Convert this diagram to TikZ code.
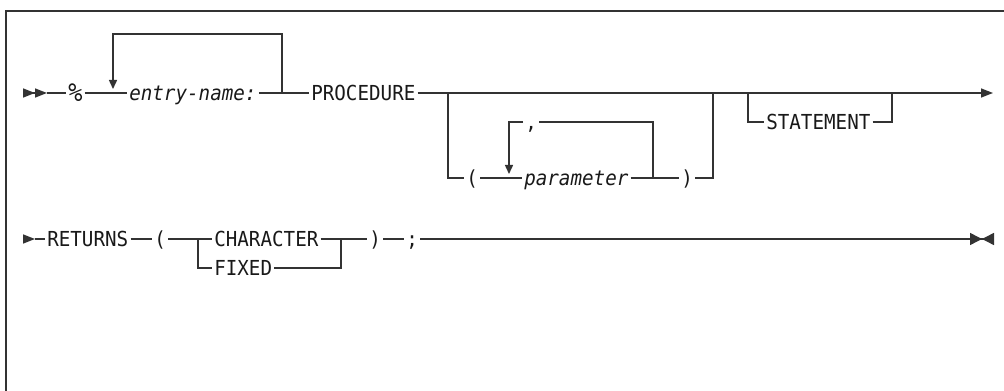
\documentclass[tikz,border=0pt]{standalone}
\usepackage{fontspec}
\setmonofont{DejaVu Sans Mono}[FakeStretch=0.93]
\usetikzlibrary{arrows.meta,calc}
\tikzset{
  tok/.style={anchor=west, inner xsep=1.5pt, inner ysep=0pt, text height=11.2pt, text depth=0pt, text=black!90, font=\fontsize{15.5pt}{17pt}\ttfamily},
  var/.style={tok, font=\fontsize{15.5pt}{17pt}\ttfamily\itshape},
  rail/.style={line width=1.1pt, draw=black!80},
  repeat/.style={rail, -{Triangle[length=6.75pt,width=6pt]}},
  begin/.style={rail, -{Triangle[length=9pt,width=6.75pt]Triangle[length=9pt,width=6.75pt]}},
  cont/.style={rail, -{Triangle[length=9pt,width=6.75pt]}},
  finish/.style={rail, -{Triangle[length=9pt,width=9pt]Triangle[length=9pt,width=9pt,reversed]}}
}
\begin{document}
\begin{tikzpicture}[x=0.75pt,y=0.75pt,yscale=-1,xscale=1]
\useasboundingbox (0,0) rectangle (1004,391);
\draw [line width=1.5pt, draw=black!80] (6,391) -- (6,11) -- (1004,11);
% first line
\coordinate (s1) at (23,93);
\coordinate (m1) at (47,93);
\node [var, text height=13pt, font=\fontsize{19pt}{20pt}\ttfamily\itshape] (pct) at (66,93) {\%};
\coordinate (rl) at (113,93);
\coordinate (rlt) at (113,34);
\node [var] (entry) at (127,93) {entry-name:};
\coordinate (rr) at (282,93);
\coordinate (rrt) at (282,34);
\node [tok] (proc) at (309,93) {PROCEDURE};
\coordinate (pf) at (448,93);
\coordinate (pfb) at (448,178);
\node [tok] (lpar) at (464,178) {(};
\coordinate (ql) at (509,178);
\node [var] (param) at (522,178) {parameter};
\coordinate (qr) at (653,178);
\node [tok] (rpar) at (679,178) {)};
\coordinate (pjb) at (713,178);
\coordinate (pj) at (713,93);
\coordinate (sf) at (748,93);
\coordinate (sfb) at (748,122);
\node [tok] (stmt) at (764,122) {STATEMENT};
\coordinate (sjb) at (892,122);
\coordinate (sj) at (892,93);
\coordinate (e1) at (993,93);
\node [tok] (comma) at (523,122) {,};
\draw [begin] (s1) -- (m1);
\draw [rail] (m1) -- (pct.west) (pct.east) -- (entry.west);
\draw [rail] (entry.east) -- (proc.west);
\draw [repeat] (rr) -- (rrt) -- (rlt) -- ($(rl)+(0,-4)$);
\draw [rail] (proc.east) -- (pf) -- (pj) -- (sf) -- (sj);
\draw [cont] (sj) -- (e1);
\draw [rail] (pf) -- (pfb) -- (lpar.west) (lpar.east) -- (param.west);
\draw [rail] (param.east) -- (rpar.west) (rpar.east) -- (pjb) -- (pj);
\draw [repeat] (qr) -- (qr |- comma.east) -- (comma.east) (comma.west) -- (ql |- comma.west) -- ($(ql)+(0,-4)$);
\draw [rail] (sf) -- (sfb) -- (stmt.west) (stmt.east) -- (sjb) -- (sj);
% second line
\coordinate (s2) at (23,239);
\coordinate (m2) at (35,239);
\node [tok] (ret) at (45,239) {RETURNS};
\node [tok] (lpar2) at (152,239) {(};
\coordinate (tf) at (198,239);
\coordinate (tfb) at (198,268);
\node [tok] (char) at (212,239) {CHARACTER};
\node [tok] (fixed) at (212,268) {FIXED};
\coordinate (tj) at (341,239);
\coordinate (tjb) at (341,268);
\node [tok] (rpar2) at (367,239) {)};
\node [tok] (semi) at (404,239) {;};
\coordinate (e2) at (994,239);
\draw [cont] (s2) -- (m2);
\draw [rail] (m2) -- (ret.west) (ret.east) -- (lpar2.west);
\draw [rail] (lpar2.east) -- (char.west) (char.east) -- (rpar2.west);
\draw [rail] (tf) -- (tfb) -- (fixed.west) (fixed.east) -- (tjb) -- (tj);
\draw [rail] (rpar2.east) -- (semi.west);
\draw [finish] (semi.east) -- (e2);
\end{tikzpicture}
\end{document}
